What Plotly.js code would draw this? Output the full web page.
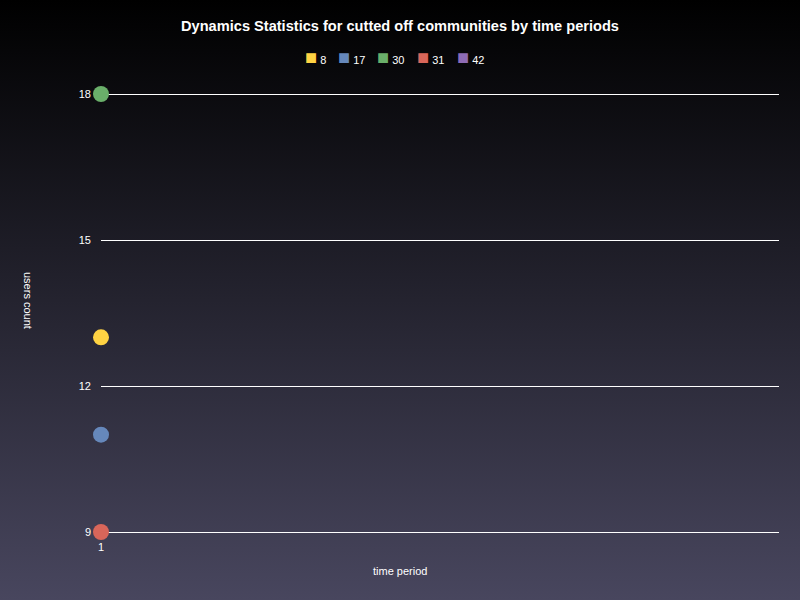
<!DOCTYPE html>
<html>
<head>
<meta charset="utf-8">
<script src="https://cdn.plot.ly/plotly-3.0.1.min.js"></script>
<style>
html,body{margin:0;padding:0;}
#chart{width:800px;height:600px;background:linear-gradient(to bottom,#000000 0%,#48465e 100%);}
</style>
</head>
<body>
<div id="chart"></div>
<script>
var periods = [1];
var seriesNames = ['8', '17', '30', '31', '42'];
var seriesValues = [[13], [11], [18], [9], []];
var seriesColors = ['#ffd343', '#6688bb', '#6aaf6a', '#d9665a', '#8e6bb5'];
var yTicks = [9, 12, 15, 18];

var PL = 101, PW = 678, PT = 92, PH = 442;
function px(x){ return (x - PL) / PW; }
function py(y){ return 1 - (y - PT) / PH; }
var pad = 2 / (438 / 9);

var traces = [];
seriesNames.forEach(function(name, i){
  traces.push({
    type: 'scatter', mode: 'markers', name: name,
    x: seriesValues[i].length ? periods.slice(0, seriesValues[i].length) : [],
    y: seriesValues[i],
    marker: {color: seriesColors[i], size: 16, symbol: 'circle'},
    cliponaxis: false, showlegend: false
  });
});

var legendLeft = [303, 336, 375, 415, 455];
var annotations = [{text: 'users count', xref: 'paper', yref: 'paper', x: px(28), y: py(300),
                 xanchor: 'center', yanchor: 'middle', textangle: 90, showarrow: false,
                 font: {size: 11, color: '#ffffff'}},
                {text: 'time period', xref: 'paper', yref: 'paper', x: px(400), y: py(571),
                 xanchor: 'center', yanchor: 'middle', showarrow: false,
                 font: {size: 11, color: '#ffffff'}}];
seriesNames.forEach(function(name, i){
  annotations.push({
    text: '<span style="color:' + seriesColors[i] + ';font-size:20px">■</span> ' + name,
    xref: 'paper', yref: 'paper', x: px(legendLeft[i]), y: py(57),
    xanchor: 'left', yanchor: 'middle', showarrow: false,
    font: {size: 11, color: '#ffffff'}
  });
});

var layout = {
  width: 800, height: 600,
  paper_bgcolor: 'rgba(0,0,0,0)', plot_bgcolor: 'rgba(0,0,0,0)',
  font: {family: 'Liberation Sans, Arial, sans-serif', color: '#ffffff', size: 11},
  title: {text: '<b>Dynamics Statistics for cutted off communities by time periods</b>',
          font: {size: 14.6, color: '#ffffff'}, x: 0.5, xanchor: 'center', y: 0.957, yanchor: 'middle'},
  margin: {l: 101, r: 21, t: 92, b: 66},
  showlegend: false,
  xaxis: {range: [1, 2], tickvals: periods, ticktext: periods.map(String), showgrid: false,
          zeroline: false, showline: false, ticks: '', ticklabelstandoff: 5,
          tickfont: {size: 11, color: '#ffffff'}},
  yaxis: {range: [9 - pad, 18 + pad], tickvals: yTicks, showgrid: true, gridcolor: '#ffffff', gridwidth: 1,
          zeroline: false, showline: false, ticks: '', ticklabelstandoff: 9,
          tickfont: {size: 11, color: '#ffffff'}},
  annotations: annotations
};

Plotly.newPlot('chart', traces, layout, {displayModeBar: false});
</script>
</body>
</html>
